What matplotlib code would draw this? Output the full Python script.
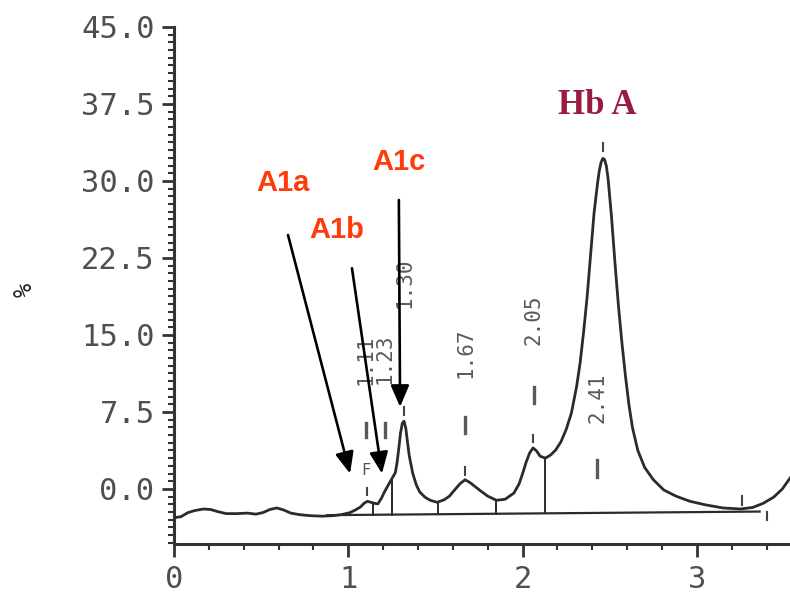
import matplotlib
matplotlib.use("Agg")
import matplotlib.pyplot as plt
import numpy as np

# ---- data ----
time_min = [0.00, 0.04, 0.08, 0.12, 0.17, 0.21, 0.25, 0.30, 0.36, 0.42, 0.47, 0.51, 0.55, 0.59,
            0.63, 0.67, 0.72, 0.78, 0.85, 0.91, 0.96, 1.01, 1.04, 1.07, 1.09, 1.11, 1.13, 1.15,
            1.17, 1.19, 1.21, 1.23, 1.25, 1.27, 1.28, 1.29, 1.30, 1.31, 1.32, 1.33, 1.34, 1.35,
            1.37, 1.39, 1.41, 1.44, 1.47, 1.51, 1.55, 1.58, 1.61, 1.64, 1.67, 1.70, 1.73, 1.76,
            1.80, 1.85, 1.90, 1.95, 1.98, 2.00, 2.02, 2.04, 2.06, 2.08, 2.10, 2.13, 2.16, 2.19,
            2.22, 2.25, 2.28, 2.31, 2.33, 2.35, 2.37, 2.39, 2.41, 2.43, 2.44, 2.45, 2.46, 2.47,
            2.48, 2.49, 2.51, 2.53, 2.55, 2.57, 2.59, 2.61, 2.63, 2.66, 2.70, 2.75, 2.81, 2.88,
            2.96, 3.05, 3.15, 3.25, 3.32, 3.38, 3.44, 3.49, 3.54]
signal_pct = [-2.8, -2.7, -2.3, -2.1, -1.95, -2.0, -2.2, -2.4, -2.4, -2.35, -2.45, -2.3, -2.0, -1.85,
              -2.05, -2.35, -2.5, -2.6, -2.65, -2.6, -2.5, -2.3, -2.05, -1.75, -1.4, -1.2, -1.3, -1.4,
              -1.45, -0.9, -0.2, 0.4, 1.0, 1.6, 2.6, 4.0, 5.5, 6.4, 6.6, 5.9, 4.5, 3.2,
              1.5, 0.4, -0.3, -0.8, -1.1, -1.3, -1.05, -0.7, -0.1, 0.5, 0.9, 0.6, 0.2, -0.2,
              -0.7, -1.1, -1.0, -0.4, 0.5, 1.5, 2.6, 3.5, 4.0, 3.7, 3.2, 3.0, 3.3, 3.8,
              4.6, 5.8, 7.4, 10.0, 12.3, 15.3, 18.7, 22.8, 26.9, 29.8, 31.0, 31.8, 32.2, 32.1,
              31.5, 30.3, 26.5, 22.0, 17.8, 14.2, 11.0, 8.2, 6.0, 3.8, 2.1, 0.9, -0.1, -0.7,
              -1.2, -1.55, -1.85, -1.95, -1.8, -1.4, -0.8, 0.0, 1.2]

peak_times = [1.11, 1.23, 1.30, 1.67, 2.05, 2.41]
peak_labels = ["1.11", "1.23", "1.30", "1.67", "2.05", "2.41"]

# integration drop lines: (time, top value)
drop_times = [1.14, 1.25, 1.515, 1.85, 2.13]
drop_tops = [-1.35, 0.8, -1.3, -1.1, 3.0]
baseline_x = [0.88, 3.36]
baseline_y = [-2.55, -2.2]

xticks = [0, 1, 2, 3]
xtick_labels = ["0", "1", "2", "3"]
yticks = [0.0, 7.5, 15.0, 22.5, 30.0, 37.5, 45.0]
ytick_labels = ["0.0", "7.5", "15.0", "22.5", "30.0", "37.5", "45.0"]

fraction_names = ["A1a", "A1b", "A1c"]
main_peak_name = "Hb A"

# ---- figure ----
fig = plt.figure(figsize=(7.9, 5.96), dpi=100)
ax = fig.add_axes([174 / 790, 1 - 544 / 596, 1 - 174 / 790, (544 - 27) / 596])
ax.set_xlim(0, 3.534)
ax.set_ylim(-5.36, 45)

curve_col = "#2b2b2b"
ax.plot(time_min, signal_pct, color=curve_col, lw=2.0, solid_joinstyle="round", zorder=3)
ax.plot(baseline_x, baseline_y, color=curve_col, lw=1.6, zorder=2)
for t, top in zip(drop_times, drop_tops):
    frac = (t - baseline_x[0]) / (baseline_x[1] - baseline_x[0])
    base = baseline_y[0] + frac * (baseline_y[1] - baseline_y[0])
    ax.plot([t, t], [base, top], color=curve_col, lw=1.4, zorder=2)

# spines / ticks
for s in ["top", "right"]:
    ax.spines[s].set_visible(False)
for s in ["left", "bottom"]:
    ax.spines[s].set_linewidth(2.2)
    ax.spines[s].set_color("#333333")

ax.set_xticks(xticks)
ax.set_xticklabels(xtick_labels)
ax.set_xticks(np.arange(0, 3.5, 0.2), minor=True)
ax.set_yticks(yticks)
ax.set_yticklabels(ytick_labels)
ax.set_yticks(np.arange(-5.25, 45.01, 0.75), minor=True)
mono = "DejaVu Sans Mono"
ax.tick_params(axis="both", which="major", length=9, width=2.0, color="#333333",
               labelsize=22, labelcolor="#4f4f4f", direction="out")
ax.tick_params(axis="both", which="minor", length=4, width=1.5, color="#333333", direction="out")
ax.tick_params(axis="y", which="major", pad=5)
ax.tick_params(axis="x", which="major", pad=6)
for lab in ax.get_xticklabels() + ax.get_yticklabels():
    lab.set_fontfamily(mono)

# y-axis unit
fig.text(25 / 790, 1 - 290 / 596, "%", rotation=90, fontsize=17, family=mono,
         ha="center", va="center", color="#222222")

# peak retention-time labels (rotated), with dash marks
label_x = [1.10, 1.21, 1.32, 1.67, 2.065, 2.427]
label_y = [12.6, 12.7, 20.1, 13.3, 16.5, 8.9]
dash_ranges = [(5.1, 6.4), (5.1, 6.4), None, (5.45, 7.0), (8.4, 9.9), (1.2, 2.8)]
for lx, ly, txt, dr in zip(label_x, label_y, peak_labels, dash_ranges):
    ax.text(lx, ly, txt, rotation=90, fontsize=15, family=mono, color="#5a5a5a",
            ha="center", va="center", zorder=4)
    if dr is not None:
        ax.plot([lx, lx], dr, color="#5a5a5a", lw=2.4, zorder=4)

# apex marks
apex_x = [1.11, 1.32, 1.67, 2.06, 2.46, 3.26, 3.40]
apex_y0 = [-0.6, 7.2, 1.4, 4.6, 32.9, -1.6, -3.0]
apex_y1 = [0.1, 8.0, 2.1, 5.3, 33.7, -0.7, -2.2]
for x0, y0, y1 in zip(apex_x, apex_y0, apex_y1):
    ax.plot([x0, x0], [y0, y1], color="#444444", lw=1.5, zorder=4)
ax.text(1.10, 1.8, "F", fontsize=11, family=mono, color="#555555", ha="center", va="center")

# fraction annotations
red = "#FF3B0C"
txt_pos = [(0.625, 29.8), (0.935, 25.2), (1.29, 31.85)]
arrow_from = [(0.654, 24.74), (1.021, 21.5), (1.29, 28.15)]
arrow_to = [(1.01, 1.5), (1.193, 1.5), (1.297, 8.0)]
for name, tp, a0, a1 in zip(fraction_names, txt_pos, arrow_from, arrow_to):
    ax.text(tp[0], tp[1], name, fontsize=21, fontweight="bold", family="Liberation Sans",
            color=red, ha="center", va="center", zorder=5)
    ax.annotate("", xy=a1, xytext=a0,
                arrowprops=dict(arrowstyle="-|>,head_length=0.65,head_width=0.28", lw=1.9,
                                color="black", mutation_scale=20, shrinkA=0, shrinkB=0),
                zorder=5)

ax.text(2.427, 37.4, main_peak_name, fontsize=25, fontweight="bold", family="Liberation Serif",
        color="#9B1B40", ha="center", va="center", zorder=5)

fig.savefig("out.png", dpi=100, facecolor="white")
